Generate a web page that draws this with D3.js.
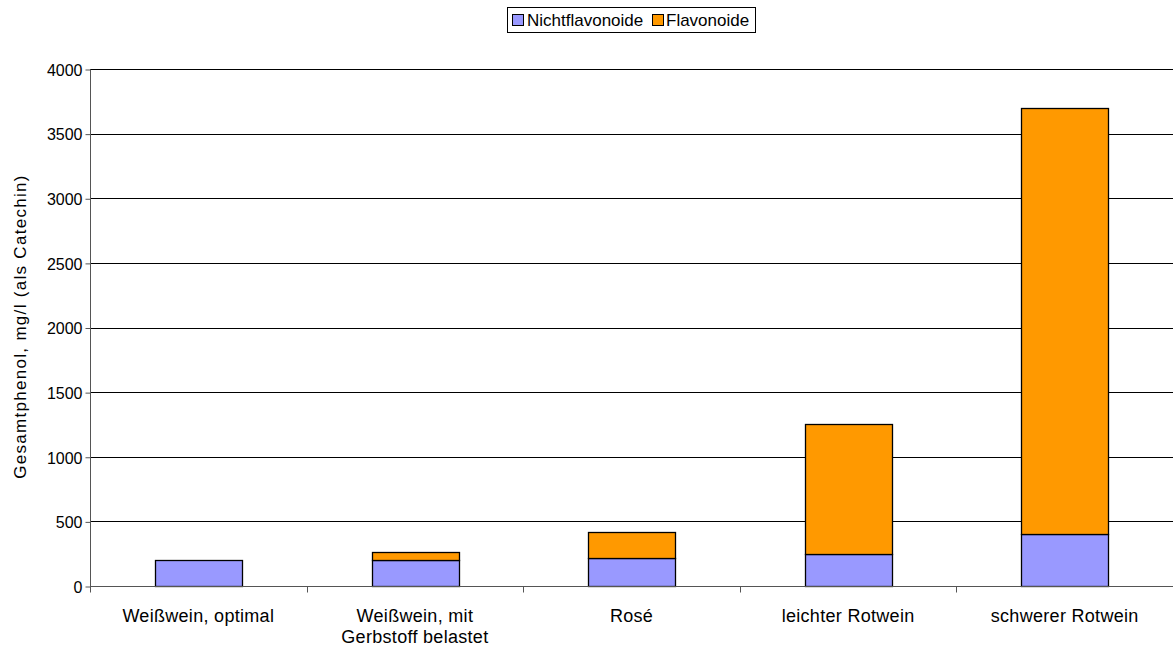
<!DOCTYPE html>
<html><head><meta charset="utf-8">
<script src="https://cdn.jsdelivr.net/npm/d3@7"></script>
<style>body{margin:0;background:#fff}svg{display:block;font-family:"Liberation Sans",Arial,sans-serif}</style>
</head><body><svg id="c" width="1173" height="652"></svg>
<script>
const categories = [["Weißwein, optimal"], ["Weißwein, mit", "Gerbstoff belastet"], ["Rosé"], ["leichter Rotwein"], ["schwerer Rotwein"]];
const nichtflavonoide = [200, 200, 220, 250, 400];
const flavonoide = [0, 60, 200, 1000, 3300];
const seriesNames = ["Nichtflavonoide", "Flavonoide"];
const seriesColors = ["#9999ff", "#ff9900"];
const yTicks = [0, 500, 1000, 1500, 2000, 2500, 3000, 3500, 4000];

const svg = d3.select("#c");
const L = 90, R = 1173, T = 69, B = 586;
const x = d3.scaleBand().domain(d3.range(categories.length)).range([L, R]).paddingInner(0.6).paddingOuter(0.3);
const xo = d3.scaleBand().domain(d3.range(categories.length)).range([L, R]);
const y = d3.scaleLinear().domain([0, 4000]).range([B, T]);

// gridlines
svg.append("g").selectAll("line").data(yTicks.slice(1)).join("line")
  .attr("x1", L).attr("x2", R).attr("y1", d => Math.round(y(d))+0.5).attr("y2", d => Math.round(y(d))+0.5)
  .attr("stroke", "#000").attr("stroke-width", 1);

const rows = categories.map((c, i) => ({i, n: nichtflavonoide[i], f: flavonoide[i]}));
const stack = d3.stack().keys(["n", "f"])(rows);
stack.forEach((s, k) => {
  svg.append("g").selectAll("rect").data(s.filter(d => d[1] > d[0])).join("rect")
    .attr("x", d => Math.round(x(d.data.i)) + 0.5)
    .attr("width", Math.round(x.bandwidth()))
    .attr("y", d => Math.round(y(d[1])) + 0.5)
    .attr("height", d => Math.round(y(d[0])) - Math.round(y(d[1])))
    .attr("fill", seriesColors[k]).attr("stroke", "#000").attr("stroke-width", 1.3);
});

// y axis
const ya = svg.append("g").attr("transform", `translate(${L+0.5},0.5)`)
  .call(d3.axisLeft(y).tickValues(yTicks).tickSize(5).tickPadding(3).tickFormat(d3.format("d")));
ya.attr("font-size", null).attr("font-family", null);
ya.select(".domain").attr("stroke", "#555").attr("d", `M0,${y(4000)}V${y(0)}`);
ya.selectAll(".tick line").attr("stroke", "#555");
ya.selectAll("text").attr("font-size", 16).attr("fill", "#000").attr("dy", "0.36em");

// x axis
const xa = svg.append("g").attr("transform", `translate(0,${B+0.5})`);
xa.append("line").attr("x1", L).attr("x2", R).attr("stroke", "#555");
xa.selectAll("line.t").data(d3.range(categories.length + 1)).join("line").attr("class", "t")
  .attr("x1", i => Math.round(L + i * xo.step()) + 0.5).attr("x2", i => Math.round(L + i * xo.step()) + 0.5)
  .attr("y1", 0).attr("y2", 6).attr("stroke", "#555");
categories.forEach((lines, i) => {
  const cx = xo(i) + xo.bandwidth() / 2;
  const t = xa.append("text").attr("text-anchor", "middle").attr("font-size", 18)
    .attr("letter-spacing", 0.3).attr("x", cx).attr("y", 35);
  lines.forEach((ln, j) => t.append("tspan").attr("x", cx).attr("dy", j ? 21 : 0).text(ln));
});

// y label
svg.append("text").attr("transform", `translate(26,${(173+480)/2}) rotate(-90)`)
  .attr("text-anchor", "middle").attr("font-size", 17).attr("letter-spacing", 1.3)
  .text("Gesamtphenol, mg/l (als Catechin)");

// legend
const lg = svg.append("g");
lg.append("rect").attr("x", 507.5).attr("y", 7.5).attr("width", 248).attr("height", 25).attr("fill", "#fff").attr("stroke", "#000");
const items = [{x: 512, tx: 527}, {x: 652, tx: 666}];
seriesNames.forEach((n, k) => {
  lg.append("rect").attr("x", items[k].x + 0.5).attr("y", 14.5).attr("width", 11).attr("height", 11)
    .attr("fill", seriesColors[k]).attr("stroke", "#000");
  lg.append("text").attr("x", items[k].tx).attr("y", 26).attr("font-size", 17).text(n);
});
</script></body></html>
